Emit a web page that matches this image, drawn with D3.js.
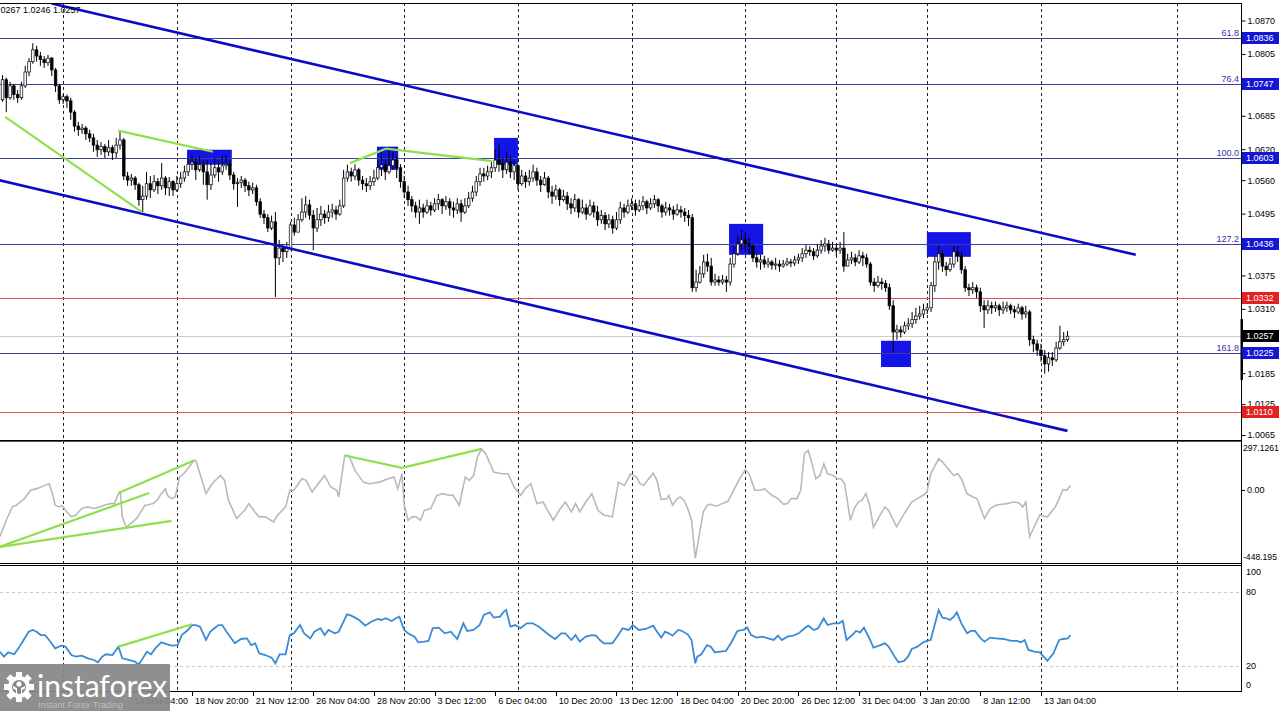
<!DOCTYPE html>
<html><head><meta charset="utf-8">
<script src="https://cdn.jsdelivr.net/npm/d3@7"></script>
<style>html,body{margin:0;padding:0;background:#fff;overflow:hidden}</style>
</head><body><svg id="c" width="1280" height="711"></svg>
<script>
// ---------------- DATA ----------------
const firstOpen = 1.0716;
const closes = [1.0755,1.0720,1.0743,1.0726,1.0720,1.0743,1.0770,1.0790,1.0813,1.0801,
1.0794,1.0788,1.0797,1.0774,1.0743,1.0716,1.0722,1.0714,1.0692,1.0665,
1.0658,1.0661,1.0650,1.0642,1.0628,1.0619,1.0625,1.0615,1.0623,1.0613,
1.0628,1.0638,1.0568,1.0560,1.0564,1.0551,1.0522,1.0529,1.0553,1.0541,
1.0557,1.0549,1.0564,1.0545,1.0557,1.0541,1.0553,1.0564,1.0576,1.0591,
1.0595,1.0580,1.0590,1.0576,1.0551,1.0570,1.0584,1.0576,1.0588,1.0591,
1.0570,1.0553,1.0555,1.0560,1.0549,1.0541,1.0545,1.0518,1.0494,1.0487,
1.0467,1.0479,1.0409,1.0428,1.0421,1.0428,1.0473,1.0459,1.0483,1.0498,
1.0512,1.0492,1.0467,1.0483,1.0494,1.0487,1.0498,1.0502,1.0494,1.0510,
1.0564,1.0576,1.0568,1.0580,1.0560,1.0553,1.0549,1.0557,1.0564,1.0584,
1.0590,1.0576,1.0588,1.0599,1.0584,1.0557,1.0537,1.0522,1.0510,1.0498,
1.0506,1.0498,1.0510,1.0502,1.0514,1.0522,1.0510,1.0518,1.0506,1.0502,
1.0514,1.0498,1.0510,1.0525,1.0537,1.0557,1.0572,1.0568,1.0576,1.0584,
1.0599,1.0591,1.0580,1.0595,1.0576,1.0588,1.0553,1.0568,1.0557,1.0564,
1.0576,1.0560,1.0551,1.0564,1.0537,1.0529,1.0541,1.0522,1.0529,1.0514,
1.0506,1.0522,1.0498,1.0506,1.0494,1.0510,1.0498,1.0483,1.0491,1.0475,
1.0483,1.0467,1.0483,1.0506,1.0498,1.0510,1.0514,1.0502,1.0510,1.0518,
1.0506,1.0514,1.0522,1.0510,1.0498,1.0506,1.0502,1.0494,1.0502,1.0498,
1.0491,1.0487,1.0351,1.0362,1.0378,1.0401,1.0393,1.0362,1.0366,1.0362,
1.0366,1.0362,1.0397,1.0417,1.0436,1.0444,1.0436,1.0432,1.0409,1.0401,
1.0405,1.0397,1.0401,1.0395,1.0397,1.0393,1.0397,1.0401,1.0399,1.0405,
1.0409,1.0417,1.0424,1.0421,1.0413,1.0424,1.0432,1.0436,1.0424,1.0428,
1.0424,1.0428,1.0393,1.0405,1.0409,1.0401,1.0413,1.0409,1.0397,1.0362,
1.0355,1.0362,1.0359,1.0351,1.0316,1.0265,1.0269,1.0265,1.0277,1.0281,
1.0289,1.0296,1.0300,1.0308,1.0312,1.0355,1.0401,1.0417,1.0393,1.0386,
1.0397,1.0421,1.0413,1.0386,1.0351,1.0347,1.0351,1.0343,1.0316,1.0308,
1.0316,1.0312,1.0316,1.0308,1.0312,1.0316,1.0308,1.0304,1.0312,1.0300,
1.0304,1.0250,1.0242,1.0230,1.0219,1.0203,1.0215,1.0211,1.0234,1.0246,
1.0250,1.0257];
const highs = [1.0764,1.0759,1.0751,1.0747,1.0735,1.0751,1.0782,1.0797,1.0826,1.0821,
1.0809,1.0801,1.0803,1.0799,1.0778,1.0747,1.0727,1.0726,1.0720,1.0696,
1.0673,1.0669,1.0665,1.0658,1.0650,1.0638,1.0634,1.0630,1.0638,1.0628,
1.0642,1.0656,1.0642,1.0576,1.0572,1.0568,1.0555,1.0549,1.0576,1.0568,
1.0570,1.0564,1.0593,1.0568,1.0566,1.0560,1.0568,1.0576,1.0588,1.0603,
1.0609,1.0603,1.0607,1.0599,1.0599,1.0593,1.0603,1.0599,1.0607,1.0609,
1.0599,1.0576,1.0564,1.0568,1.0564,1.0557,1.0555,1.0551,1.0525,1.0502,
1.0494,1.0491,1.0498,1.0444,1.0436,1.0440,1.0479,1.0487,1.0494,1.0525,
1.0529,1.0522,1.0502,1.0506,1.0510,1.0502,1.0512,1.0514,1.0510,1.0522,
1.0580,1.0590,1.0584,1.0591,1.0584,1.0568,1.0564,1.0568,1.0580,1.0599,
1.0615,1.0599,1.0623,1.0615,1.0607,1.0591,1.0568,1.0549,1.0529,1.0518,
1.0522,1.0514,1.0522,1.0518,1.0525,1.0533,1.0525,1.0529,1.0525,1.0518,
1.0525,1.0522,1.0525,1.0537,1.0549,1.0568,1.0584,1.0584,1.0588,1.0599,
1.0619,1.0628,1.0603,1.0615,1.0607,1.0599,1.0591,1.0580,1.0576,1.0580,
1.0590,1.0584,1.0568,1.0576,1.0568,1.0549,1.0551,1.0545,1.0541,1.0537,
1.0525,1.0533,1.0525,1.0522,1.0514,1.0522,1.0518,1.0510,1.0502,1.0498,
1.0494,1.0491,1.0498,1.0518,1.0514,1.0522,1.0525,1.0522,1.0522,1.0529,
1.0522,1.0525,1.0531,1.0525,1.0514,1.0518,1.0514,1.0510,1.0514,1.0510,
1.0506,1.0502,1.0494,1.0386,1.0393,1.0415,1.0417,1.0409,1.0378,1.0374,
1.0376,1.0374,1.0409,1.0432,1.0452,1.0463,1.0459,1.0448,1.0436,1.0417,
1.0415,1.0413,1.0409,1.0405,1.0409,1.0405,1.0405,1.0409,1.0407,1.0413,
1.0417,1.0428,1.0434,1.0432,1.0428,1.0436,1.0444,1.0448,1.0444,1.0440,
1.0436,1.0440,1.0459,1.0417,1.0421,1.0417,1.0424,1.0421,1.0417,1.0401,
1.0370,1.0374,1.0370,1.0366,1.0359,1.0327,1.0279,1.0277,1.0285,1.0292,
1.0304,1.0312,1.0316,1.0320,1.0320,1.0362,1.0413,1.0432,1.0424,1.0401,
1.0409,1.0432,1.0432,1.0421,1.0393,1.0359,1.0362,1.0357,1.0351,1.0327,
1.0327,1.0324,1.0324,1.0320,1.0324,1.0324,1.0320,1.0316,1.0320,1.0316,
1.0316,1.0308,1.0258,1.0250,1.0242,1.0230,1.0226,1.0226,1.0246,1.0277,
1.0265,1.0267];
const lows = [1.0712,1.0692,1.0716,1.0716,1.0710,1.0716,1.0739,1.0762,1.0786,1.0790,
1.0782,1.0778,1.0782,1.0762,1.0731,1.0708,1.0708,1.0700,1.0677,1.0654,
1.0646,1.0650,1.0638,1.0634,1.0615,1.0605,1.0609,1.0603,1.0607,1.0599,
1.0603,1.0619,1.0560,1.0549,1.0549,1.0541,1.0510,1.0498,1.0522,1.0525,
1.0537,1.0533,1.0541,1.0531,1.0529,1.0529,1.0537,1.0545,1.0557,1.0568,
1.0580,1.0560,1.0576,1.0551,1.0522,1.0541,1.0564,1.0557,1.0570,1.0580,
1.0560,1.0541,1.0508,1.0545,1.0537,1.0529,1.0533,1.0510,1.0487,1.0475,
1.0459,1.0463,1.0333,1.0395,1.0401,1.0409,1.0424,1.0452,1.0463,1.0479,
1.0487,1.0483,1.0424,1.0459,1.0471,1.0475,1.0479,1.0487,1.0483,1.0491,
1.0506,1.0557,1.0557,1.0560,1.0549,1.0541,1.0537,1.0541,1.0549,1.0560,
1.0568,1.0560,1.0572,1.0580,1.0564,1.0545,1.0525,1.0510,1.0498,1.0487,
1.0475,1.0487,1.0494,1.0491,1.0498,1.0502,1.0494,1.0502,1.0491,1.0487,
1.0494,1.0479,1.0494,1.0506,1.0518,1.0529,1.0549,1.0557,1.0560,1.0564,
1.0576,1.0576,1.0564,1.0572,1.0564,1.0560,1.0541,1.0549,1.0545,1.0549,
1.0557,1.0549,1.0537,1.0549,1.0525,1.0514,1.0522,1.0510,1.0518,1.0502,
1.0494,1.0498,1.0487,1.0494,1.0483,1.0491,1.0487,1.0471,1.0475,1.0463,
1.0467,1.0456,1.0463,1.0475,1.0487,1.0494,1.0502,1.0491,1.0498,1.0502,
1.0494,1.0502,1.0506,1.0498,1.0487,1.0491,1.0491,1.0483,1.0491,1.0487,
1.0479,1.0471,1.0343,1.0343,1.0359,1.0370,1.0382,1.0355,1.0355,1.0355,
1.0357,1.0343,1.0355,1.0390,1.0413,1.0424,1.0421,1.0417,1.0401,1.0390,
1.0386,1.0390,1.0390,1.0386,1.0386,1.0382,1.0390,1.0393,1.0391,1.0393,
1.0397,1.0401,1.0409,1.0413,1.0405,1.0409,1.0417,1.0421,1.0417,1.0421,
1.0413,1.0417,1.0382,1.0393,1.0397,1.0393,1.0397,1.0393,1.0390,1.0355,
1.0343,1.0351,1.0347,1.0343,1.0308,1.0226,1.0250,1.0254,1.0261,1.0269,
1.0273,1.0281,1.0289,1.0292,1.0300,1.0304,1.0343,1.0386,1.0382,1.0374,
1.0382,1.0390,1.0401,1.0378,1.0343,1.0335,1.0339,1.0331,1.0304,1.0273,
1.0300,1.0300,1.0304,1.0296,1.0300,1.0304,1.0300,1.0292,1.0300,1.0289,
1.0292,1.0238,1.0226,1.0219,1.0207,1.0184,1.0188,1.0199,1.0207,1.0230,
1.0238,1.0246];

// CCI (bar, value)
const cci = [[-0.7,-287],[1.0,-186],[2.6,-104],[3.6,-94],[5.8,-53],[7.4,-2],[9.0,8],[11.2,28],[12.3,38],[13.3,-33],[13.9,-94],[15.0,-104],[15.7,-94],[16.6,-125],[18.2,-165],[19.3,-155],[20.9,-114],[22.5,-104],[24.1,-114],[25.7,-104],[26.8,-94],[28.4,-84],[29.5,-84],[30.6,-23],[31.1,-13],[31.6,-165],[32.7,-230],[33.8,-206],[35.4,-175],[36.5,-135],[37.6,-94],[38.1,-94],[39.7,-84],[40.8,-63],[41.9,-23],[43.0,8],[43.5,-33],[44.6,-53],[45.6,-43],[46.7,79],[47.8,99],[48.9,130],[50.5,181],[51.0,181],[52.1,99],[53.7,-23],[55.3,38],[57.5,89],[58.6,59],[59.6,-63],[61.8,-175],[63.9,-125],[65.0,-84],[66.6,-135],[67.7,-165],[69.3,-165],[71.5,-196],[72.6,-155],[74.7,-104],[75.8,-2],[76.9,-2],[79.0,69],[80.1,59],[81.7,-13],[83.3,38],[85.0,89],[86.6,18],[88.2,-2],[88.7,-43],[90.3,211],[91.4,211],[93.0,120],[95.2,48],[96.8,38],[99.5,48],[101.7,69],[103.3,79],[104.3,8],[105.4,99],[106.0,-94],[107.0,-186],[108.1,-165],[109.2,-165],[110.3,-186],[111.3,-125],[113.0,-114],[114.6,-33],[116.2,-23],[117.8,-33],[118.9,-33],[120.5,-94],[122.1,79],[123.2,59],[124.3,89],[125.3,201],[126.4,252],[127.5,222],[129.6,110],[131.8,99],[133.4,99],[135.0,18],[136.7,-33],[138.3,18],[139.4,38],[141.0,-84],[142.6,-74],[145.3,-186],[146.9,-125],[148.5,-74],[150.1,-135],[151.2,-84],[152.3,-135],[153.9,-74],[155.5,-23],[157.1,-125],[158.7,-155],[160.9,-165],[162.5,48],[164.1,28],[165.7,99],[167.3,79],
[168.2,38],[169.2,28],[170.2,59],[171.7,103],[172.7,59],[173.8,-59],[175.3,-53],[175.8,-33],[176.8,-94],[177.8,-59],[178.8,-43],[179.8,-63],[180.8,-114],[181.8,-186],[182.8,-420],[183.9,-267],[184.9,-135],[185.9,-94],[186.9,-88],[188.4,-100],[189.9,-84],[191.4,-70],[192.9,-2],[194.5,69],[196.0,124],[197.0,99],[198.5,-2],[200.0,-2],[201.0,8],[203.0,-33],[204.6,-53],[206.1,-88],[207.1,-84],[208.1,-53],[209.6,-53],[210.6,-2],[211.6,222],[212.6,242],[213.6,160],[214.6,69],[215.7,89],[216.7,160],[217.7,99],[219.2,89],[220.2,69],[221.2,69],[222.2,38],[223.7,-186],[224.7,-114],[225.8,-74],[226.8,-63],[227.8,-23],[228.8,-94],[229.8,-230],[231.3,-165],[232.8,-104],[233.8,-125],[234.8,-175],[235.9,-226],[237.9,-145],[239.9,-74],[241.4,-53],[242.9,-33],[243.9,-13],[244.9,99],[247.0,191],[248.0,171],[249.5,130],[251.0,89],[252.0,99],[253.0,69],[254.5,-23],[256.1,-43],[257.1,-53],[259.1,-175],[260.6,-114],[262.1,-94],[263.6,-88],[265.1,-84],[266.7,-74],[268.2,-80],[269.2,-104],[270.0,-74],[271.0,-287],[272.2,-226],[273.7,-155],[275.7,-165],[277.8,-104],[278.8,-53],[279.8,2],[280.8,-2],[281.8,28]];

// RSI (bar, value)
const rsi = [[-0.7,31.6],[0.4,27.6],[1.5,31.1],[3.1,29.5],[4.2,34.3],[5.3,39.7],[6.9,47.8],[8.0,49.2],[9.0,47.8],[10.1,45.1],[11.2,45.1],[12.3,41.1],[13.9,34.3],[15.5,36.5],[16.6,35.7],[18.2,28.9],[19.3,27.6],[20.9,28.4],[22.5,26.2],[24.1,24.9],[25.2,23.0],[26.3,27.6],[27.3,29.5],[29.0,28.9],[30.6,35.7],[31.6,26.2],[33.3,24.9],[34.9,23.5],[36.0,21.3],[37.0,26.2],[38.1,31.6],[39.2,29.5],[40.3,34.3],[41.9,39.2],[43.5,37.6],[44.6,36.5],[46.2,37.0],[47.3,45.1],[48.9,49.2],[50.0,53.2],[51.0,53.2],[52.1,51.9],[53.7,41.1],[54.8,47.8],[55.9,50.6],[57.0,53.2],[58.0,53.2],[59.1,47.8],[61.3,38.4],[62.9,41.9],[64.5,42.4],[65.6,37.0],[66.7,38.4],[67.7,30.3],[69.3,28.9],[71.0,26.8],[72.0,22.2],[73.1,29.5],[74.7,29.5],[75.8,45.1],[76.9,46.5],[78.5,53.2],[79.6,46.5],[81.2,42.4],[82.3,47.8],[83.9,50.6],[85.0,45.1],[86.0,49.2],[87.7,46.5],[88.7,47.8],[90.9,61.9],[92.0,60.8],[93.0,59.2],[94.1,57.3],[95.7,52.7],[97.3,55.9],[99.0,58.1],[100.0,57.3],[101.1,58.7],[102.7,56.5],[103.8,58.7],[104.7,60.0],[106.0,49.2],[107.0,46.5],[108.7,43.8],[109.7,39.2],[111.3,39.7],[112.4,40.3],[113.5,50.6],[115.1,51.1],[116.7,46.5],[118.3,47.8],[120.0,41.9],[121.6,54.6],[122.6,48.4],[124.3,49.2],[125.9,53.2],[127.0,61.4],[128.6,63.5],[129.6,59.2],[131.3,60.0],[132.3,64.1],[132.9,65.4],[134.0,51.9],[135.3,53.2],[136.7,50.6],[138.3,54.6],[139.9,54.6],[141.5,51.9],[142.6,49.2],[144.2,45.1],[145.8,41.9],[147.4,46.5],[148.5,46.5],[150.1,41.1],[151.2,45.1],[152.3,39.7],[153.9,43.8],[155.5,45.1],[156.6,44.6],[157.6,41.1],[158.7,38.4],[160.9,38.4],[162.5,45.1],[163.6,50.6],[165.2,49.2],[166.3,53.2],[167.9,49.2],
[169.7,50.0],[171.7,52.7],[172.7,47.8],[173.8,43.0],[174.8,47.8],[175.8,46.5],[176.8,44.6],[178.3,49.2],[179.3,48.4],[180.8,45.7],[181.8,41.1],[182.8,22.2],[183.3,27.6],[184.4,29.5],[185.9,37.0],[186.9,35.7],[187.9,31.1],[189.4,31.6],[190.9,32.2],[192.4,39.7],[193.9,48.4],[195.5,49.2],[196.5,51.1],[197.5,45.1],[199.0,43.0],[200.5,43.8],[202.0,42.4],[203.5,41.1],[204.6,44.6],[205.6,41.1],[207.1,43.8],[208.6,44.6],[210.1,46.5],[211.6,50.6],[212.6,52.7],[214.1,49.2],[215.2,50.6],[216.7,58.7],[217.7,53.2],[219.2,54.6],[220.7,54.6],[221.7,56.5],[222.7,41.1],[224.2,45.1],[225.2,48.4],[226.3,47.3],[227.3,51.1],[228.8,41.9],[229.8,34.9],[231.3,36.5],[232.8,38.4],[233.8,35.7],[235.4,27.6],[236.4,23.0],[237.9,24.1],[238.9,27.6],[239.9,33.8],[241.4,35.7],[242.9,39.2],[243.9,40.3],[244.9,41.1],[247.0,65.4],[248.0,59.2],[249.0,58.7],[250.0,57.3],[251.0,60.0],[251.8,63.5],[253.0,54.6],[254.5,46.5],[255.5,48.4],[256.6,48.4],[258.1,42.4],[259.1,39.7],[260.6,43.0],[262.1,42.4],[264.1,41.9],[266.2,40.3],[267.7,40.3],[268.7,39.2],[269.7,41.1],[270.7,33.0],[272.2,31.6],[273.7,31.1],[274.7,27.6],[275.7,24.1],[277.3,30.3],[278.8,41.1],[279.8,41.9],[281.1,42.4],[281.8,45.1]];

// levels
const fibLevels = [1.0836, 1.0747, 1.0603, 1.0436, 1.0225];
const fibNames  = ["61.8", "76.4", "100.0", "127.2", "161.8"];
const redLevels = [1.0332, 1.0110];
const lastPrice = 1.0257;
const lastRange = [1.0172, 1.0290];
const headerText = "0267 1.0246 1.0257";
const priceTicks = [1.0870,1.0805,1.0685,1.0620,1.0560,1.0495,1.0375,1.0310,1.0185,1.0125,1.0065];
const cciTicks = [["297.1261",297.1261],["0.00",0],["-448.195",-448.195]];
const rsiTicks = [100,80,20,0];
const rsiLevels = [80,20];

// channel & drawn objects (bar, price)
const channelUpper = [[13,1.0903],[299,1.0415]];
const channelLower = [[-1,1.0560],[281,1.0073]];
const greenMain = [ [[0.7,1.0683],[36.8,1.0498]], [[30.5,1.0656],[55.5,1.0615]], [[91.7,1.0593],[101.2,1.0621],[129.2,1.0597]] ];
const greenCci = [ [[-0.7,-349],[38.7,-19]], [[-0.7,-349],[44.6,-190]], [[30.6,-19],[50.5,181]], [[90.3,211],[105.4,136],[126.4,252]] ];
const greenRsi = [ [[30.6,35.7],[50.0,53.8]] ];
const zoneBars = [[48.7,60.5],[98.8,104.4],[129.7,136],[191.7,200.7],[243.9,255.5],[231.8,239.7]];
const zonePrices = [[1.0619,1.0590],[1.0625,1.0580],[1.0642,1.0590],[1.0475,1.0415],[1.0459,1.0411],[1.0248,1.0197]];

// time axis (labels hidden under the logo are not drawn)
const sepBars = [16,46,76,106,136,166,196,220,244,274,310];
const timeTickBars = [34,50,66,82,98,114,130,146,162,178,194,210,226,242,258,274];
const timeLabels = ["14 Nov 04:00","18 Nov 20:00","21 Nov 12:00","26 Nov 04:00","28 Nov 20:00","3 Dec 12:00","6 Dec 04:00","10 Dec 20:00","13 Dec 12:00","18 Dec 04:00","20 Dec 20:00","26 Dec 12:00","31 Dec 04:00","3 Jan 20:00","8 Jan 12:00","13 Jan 04:00"];

// ---------------- DRAW ----------------
const svg = d3.select('#c');
const F = '"Liberation Sans", Arial, sans-serif';
const R = 1241;
const x = d3.scaleLinear().domain([0,281]).range([2.5,1067.5]);
const y = d3.scaleLinear().domain([1.0065,1.0870]).range([435,20.5]);
const yc = d3.scaleLinear().domain([-448.195,297.1261]).range([563,441.5]);
const yr = d3.scaleLinear().domain([0,100]).range([690.7,567.3]);
const snap = v => Math.round(v) + 0.5;

svg.append('rect').attr('width',1280).attr('height',711).attr('fill','#fff');
const defs = svg.append('defs');
function clip(id,y0,y1){defs.append('clipPath').attr('id',id).append('rect').attr('x',0).attr('y',y0).attr('width',R).attr('height',y1-y0);}
clip('cm',3,440); clip('cc',441.5,563); clip('cr',565,691);

// separators
svg.append('g').selectAll('line').data(sepBars).join('line')
  .attr('x1',d=>snap(x(d))).attr('x2',d=>snap(x(d))).attr('y1',3).attr('y2',691)
  .attr('stroke','#222').attr('stroke-width',1).attr('stroke-dasharray','3,3');

// RSI level lines
svg.append('g').selectAll('line').data(rsiLevels).join('line')
  .attr('x1',0).attr('x2',R).attr('y1',d=>snap(yr(d))).attr('y2',d=>snap(yr(d)))
  .attr('stroke','#c8c8c8').attr('stroke-dasharray','3,3');

// main panel
const gm = svg.append('g').attr('clip-path','url(#cm)');
gm.selectAll('rect.z').data(zoneBars).join('rect').attr('class','z')
  .attr('x',d=>x(d[0])).attr('width',d=>x(d[1])-x(d[0]))
  .attr('y',(d,i)=>y(zonePrices[i][0])).attr('height',(d,i)=>y(zonePrices[i][1])-y(zonePrices[i][0]))
  .attr('fill','#1414e6');
gm.append('line').attr('x1',0).attr('x2',R).attr('y1',snap(y(lastPrice))).attr('y2',snap(y(lastPrice))).attr('stroke','#cccccc');
gm.selectAll('line.f').data(fibLevels).join('line').attr('class','f')
  .attr('x1',0).attr('x2',R).attr('y1',d=>snap(y(d))).attr('y2',d=>snap(y(d))).attr('stroke','#40409a');
gm.selectAll('line.r').data(redLevels).join('line').attr('class','r')
  .attr('x1',0).attr('x2',R).attr('y1',d=>snap(y(d))).attr('y2',d=>snap(y(d))).attr('stroke','#e05050');

// candles
const bars = closes.map((c,i)=>({i, o: i===0?firstOpen:closes[i-1], h: highs[i], l: lows[i], c}));
gm.append('g').selectAll('line').data(bars).join('line')
  .attr('x1',d=>x(d.i)).attr('x2',d=>x(d.i))
  .attr('y1',d=>y(Math.max(d.h,d.o,d.c))).attr('y2',d=>y(Math.min(d.l,d.o,d.c)))
  .attr('stroke','#000').attr('stroke-width',1);
gm.append('g').selectAll('rect').data(bars).join('rect')
  .attr('x',d=>x(d.i)-1.3).attr('width',2.6)
  .attr('y',d=>y(Math.max(d.o,d.c)))
  .attr('height',d=>Math.max(0.8, Math.abs(y(d.o)-y(d.c))))
  .attr('fill',d=>d.c>=d.o?'#fff':'#000').attr('stroke','#000').attr('stroke-width',0.7);

const lineMain = d3.line().x(d=>x(d[0])).y(d=>y(d[1]));
[channelUpper, channelLower].forEach(c=>gm.append('path').attr('d',lineMain(c)).attr('fill','none').attr('stroke','#0a0ac8').attr('stroke-width',2.6));
greenMain.forEach(c=>gm.append('path').attr('d',lineMain(c)).attr('fill','none').attr('stroke','#8ee04a').attr('stroke-width',2.2));

// CCI
const gc = svg.append('g').attr('clip-path','url(#cc)');
const lineC = d3.line().x(d=>x(d[0])).y(d=>yc(d[1]));
gc.append('path').attr('d',lineC(cci)).attr('fill','none').attr('stroke','#b9b9b9').attr('stroke-width',1.6);
greenCci.forEach(c=>gc.append('path').attr('d',lineC(c)).attr('fill','none').attr('stroke','#8ee04a').attr('stroke-width',2.2));

// RSI
const gr = svg.append('g').attr('clip-path','url(#cr)');
const lineR = d3.line().x(d=>x(d[0])).y(d=>yr(d[1]));
gr.append('path').attr('d',lineR(rsi)).attr('fill','none').attr('stroke','#3b8ad6').attr('stroke-width',1.8);
greenRsi.forEach(c=>gr.append('path').attr('d',lineR(c)).attr('fill','none').attr('stroke','#8ee04a').attr('stroke-width',2.2));

// panel borders
const bord = svg.append('g').attr('fill','none').attr('stroke','#000').attr('stroke-width',1);
[3.5, 440.5, 563.5, 565.5, 691.5].forEach(v=>bord.append('line').attr('x1',0).attr('x2',R).attr('y1',v).attr('y2',v));
bord.append('line').attr('x1',0).attr('x2',R).attr('y1',441.5).attr('y2',441.5).attr('stroke','#555');
bord.append('line').attr('x1',R+0.5).attr('x2',R+0.5).attr('y1',3).attr('y2',692);

// price axis
const ya = d3.axisRight(y).tickValues(priceTicks).tickSize(4).tickPadding(2).tickFormat(d3.format('.4f'));
const gya = svg.append('g').attr('transform',`translate(${R+0.5},0)`).call(ya);
gya.select('.domain').remove();
gya.selectAll('text').attr('font-family',F).attr('font-size',9).attr('fill','#000');

// range marker on axis
svg.append('rect').attr('x',R-0.5).attr('width',2.5).attr('y',y(lastRange[1])).attr('height',y(lastRange[0])-y(lastRange[1])).attr('fill','#000');

// fib labels
svg.append('g').selectAll('text').data(fibLevels).join('text')
  .attr('x',R-2).attr('y',d=>y(d)-2).attr('text-anchor','end')
  .attr('font-family',F).attr('font-size',9).attr('fill','#3333aa').text((d,i)=>fibNames[i]);

// price tags
function tag(v,bg){
  const g = svg.append('g');
  g.append('rect').attr('x',R+1).attr('y',Math.round(y(v))-6).attr('width',37).attr('height',12).attr('fill',bg);
  g.append('text').attr('x',R+5).attr('y',Math.round(y(v))).attr('dy','0.35em').attr('font-family',F).attr('font-size',9).attr('fill','#fff').text(d3.format('.4f')(v));
}
fibLevels.forEach(v=>tag(v,'#1515d6'));
redLevels.forEach(v=>tag(v,'#e42121'));
tag(lastPrice,'#000');

// CCI labels
cciTicks.forEach(([t,v],i)=>{
  const yy = i===0? yc(v)+6 : (i===2? yc(v)-6 : yc(v));
  if(i===1) svg.append('line').attr('x1',R).attr('x2',R+4).attr('y1',snap(yc(v))).attr('y2',snap(yc(v))).attr('stroke','#000');
  svg.append('text').attr('x',i===1?R+6:R+2).attr('y',yy).attr('dy','0.35em').attr('font-family',F).attr('font-size',i===1?9:8.6).attr('fill','#000').text(t);
});
// RSI labels
rsiTicks.forEach(v=>{
  let yy = yr(v); if(v===100) yy+=5; if(v===0) yy-=6;
  svg.append('text').attr('x',R+5).attr('y',yy).attr('dy','0.35em').attr('font-family',F).attr('font-size',9).attr('fill','#000').text(v);
});

// time axis
const gx = svg.append('g');
gx.selectAll('line').data(timeTickBars).join('line')
  .attr('x1',d=>snap(x(d))).attr('x2',d=>snap(x(d))).attr('y1',692).attr('y2',696).attr('stroke','#000');
gx.selectAll('text').data(timeTickBars).join('text')
  .attr('x',d=>x(d)+3).attr('y',701).attr('dy','0.35em')
  .attr('font-family',F).attr('font-size',9).attr('fill','#000').text((d,i)=>timeLabels[i]);

// header
svg.append('text').attr('x',0.5).attr('y',10).attr('dy','0.35em').attr('font-family',F).attr('font-size',9).attr('fill','#000').text(headerText);

// logo
const lg = svg.append('g');
lg.append('rect').attr('x',0).attr('y',664).attr('width',170).attr('height',47).attr('fill','#878787').attr('opacity',0.93);
const gear = lg.append('g').attr('transform','translate(19,687)');
d3.range(8).forEach(k=>gear.append('rect').attr('x',-3).attr('y',-15).attr('width',6).attr('height',7).attr('fill','#fff').attr('transform',`rotate(${k*45})`));
gear.append('circle').attr('r',11).attr('fill','#fff');
gear.append('circle').attr('r',7).attr('fill','#878787');
gear.append('circle').attr('cx',0).attr('cy',-3).attr('r',2.6).attr('fill','#fff');
gear.append('path').attr('d','M-6,-1 L-2,1 L-2,8 L2,8 L2,1 L6,-1 L6,1.5 L3,3 L3,9 L-3,9 L-3,3 L-6,1.5 Z').attr('fill','#fff');
lg.append('text').attr('x',37).attr('y',697).attr('font-family','Lato, "Open Sans", sans-serif').attr('font-size',30).attr('fill','#fff').text('instaforex');
lg.append('text').attr('x',38).attr('y',708).attr('font-family',F).attr('font-size',9).attr('fill','#bdbdbd').text('Instant Forex Trading');
</script></body></html>
